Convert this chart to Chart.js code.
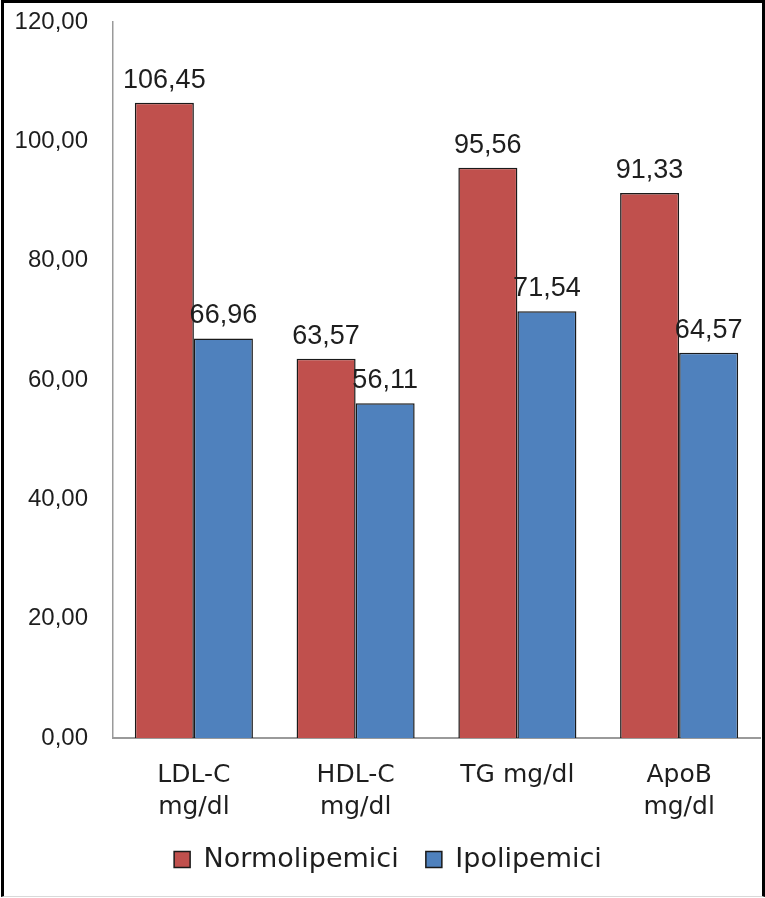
<!DOCTYPE html>
<html lang="it">
<head>
    <meta charset="UTF-8">
    <title>Profilo lipidico</title>
    <script src="https://cdn.jsdelivr.net/npm/chart.js"></script>
    <style>
        html, body { margin: 0; padding: 0; background: #fff; }
        #wrap { position: relative; width: 765px; height: 898px; overflow: hidden; }
        #lipidChart { position: absolute; left: 0; top: 0; }
        /* outer frame */
        #frame {
            position: absolute; left: 1px; top: 0; width: 764px; height: 897px;
            box-sizing: border-box; pointer-events: none;
            border-top: 3px solid #000; border-left: 3px solid #000;
            border-right: 3px solid #000; border-bottom: 1px solid #d9d9d9;
        }
    </style>
</head>
<body>
    <div id="wrap">
        <canvas id="lipidChart" width="765" height="898"></canvas>
        <div id="frame"></div>
    </div>

    <script>
        // Data
        const categories = [['LDL-C', 'mg/dl'], ['HDL-C', 'mg/dl'], 'TG mg/dl', ['ApoB', 'mg/dl']];
        const normolipemici = [106.45, 63.57, 95.56, 91.33];
        const ipolipemici = [66.96, 56.11, 71.54, 64.57];
        const yMin = 0, yMax = 120, yStep = 20;

        const TEXT_FONT = "'DejaVu Sans', Verdana, sans-serif";
        const NUM_FONT = "'Liberation Sans', Arial, sans-serif";
        const fmt = v => v.toFixed(2).replace('.', ',');

        // value labels above each bar
        const barValues = {
            id: 'barValues',
            afterDatasetsDraw(chart) {
                const ctx = chart.ctx;
                ctx.save();
                ctx.font = '27px ' + NUM_FONT;
                ctx.fillStyle = '#1e1e1e';
                ctx.textAlign = 'center';
                ctx.textBaseline = 'alphabetic';
                chart.data.datasets.forEach((ds, i) => {
                    chart.getDatasetMeta(i).data.forEach((bar, j) => {
                        ctx.fillText(fmt(ds.data[j]), bar.x, bar.y - 15);
                    });
                });
                ctx.restore();
            }
        };

        Chart.defaults.font.family = TEXT_FONT;
        Chart.defaults.color = '#1e1e1e';

        new Chart(document.getElementById('lipidChart'), {
            type: 'bar',
            data: {
                labels: categories,
                datasets: [{
                    label: 'Normolipemici',
                    data: normolipemici,
                    backgroundColor: '#c0504d',
                    borderColor: '#1a1a1a',
                    borderWidth: 1.5
                }, {
                    label: 'Ipolipemici',
                    data: ipolipemici,
                    backgroundColor: '#4f81bd',
                    borderColor: '#1a1a1a',
                    borderWidth: 1.5
                }]
            },
            options: {
                responsive: false,
                animation: false,
                categoryPercentage: 0.73,
                barPercentage: 1,
                layout: { padding: { left: 16, right: 5, top: 22, bottom: 15 } },
                plugins: {
                    tooltip: { enabled: false },
                    legend: {
                        position: 'bottom',
                        labels: {
                            font: { size: 27 },
                            boxWidth: 16,
                            boxHeight: 16,
                            padding: 10,
                            // wider gap between the two entries
                            generateLabels: chart => {
                                const items = Chart.defaults.plugins.legend.labels.generateLabels(chart);
                                items[0].text += '  ';
                                return items;
                            }
                        }
                    }
                },
                scales: {
                    x: {
                        grid: { display: false, drawTicks: false },
                        border: { display: true, color: '#9a9a9a', width: 2 },
                        ticks: { font: { size: 25, lineHeight: 1.28 }, padding: 21, maxRotation: 0 },
                        afterFit: s => { s.height = 98; }
                    },
                    y: {
                        min: yMin,
                        max: yMax,
                        grid: { display: false, drawTicks: false },
                        border: { display: true, color: '#9a9a9a', width: 1.5 },
                        ticks: {
                            stepSize: yStep,
                            font: { size: 24, family: NUM_FONT },
                            padding: 25,
                            callback: v => fmt(v)
                        },
                        afterFit: s => {
                            s.width = 97;
                            // keep the plot top at the layout padding
                            s.paddingTop = 0;
                            s.paddingBottom = 0;
                        }
                    }
                }
            },
            plugins: [barValues]
        });
    </script>
</body>
</html>
